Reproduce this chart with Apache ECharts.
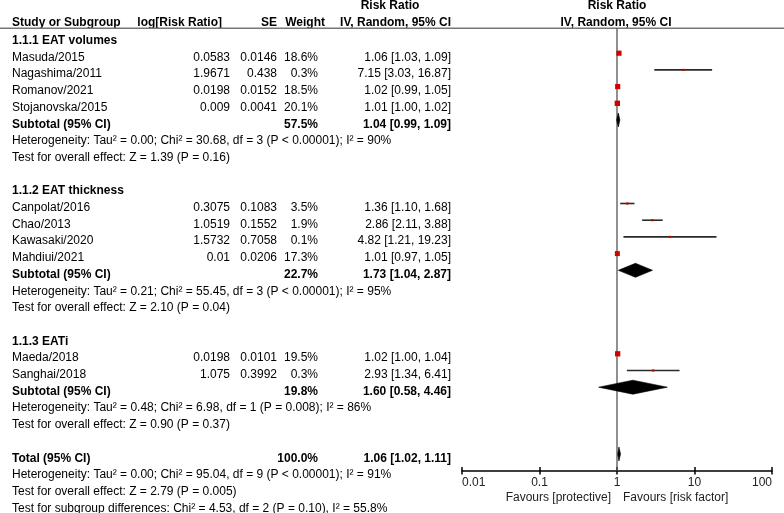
<!DOCTYPE html>
<html><head><meta charset="utf-8">
<script src="https://cdn.jsdelivr.net/npm/echarts@6/dist/echarts.min.js"></script>
<style>html,body{margin:0;padding:0;background:#fff}#c{width:784px;height:513px}</style>
</head><body><div id="c"></div>
<script>
// ---------- data ----------
const groupTitles = ["1.1.1 EAT volumes", "1.1.2 EAT thickness", "1.1.3 EATi"];
const groupRows = [0, 9, 18];

const studies = ["Masuda/2015", "Nagashima/2011", "Romanov/2021", "Stojanovska/2015",
  "Canpolat/2016", "Chao/2013", "Kawasaki/2020", "Mahdiui/2021",
  "Maeda/2018", "Sanghai/2018"];
const studyRows = [1, 2, 3, 4, 10, 11, 12, 13, 19, 20];
const logRR = ["0.0583", "1.9671", "0.0198", "0.009", "0.3075", "1.0519", "1.5732", "0.01", "0.0198", "1.075"];
const seVals = ["0.0146", "0.438", "0.0152", "0.0041", "0.1083", "0.1552", "0.7058", "0.0206", "0.0101", "0.3992"];
const weights = [18.6, 0.3, 18.5, 20.1, 3.5, 1.9, 0.1, 17.3, 19.5, 0.3];
const rr = [1.06, 7.15, 1.02, 1.01, 1.36, 2.86, 4.82, 1.01, 1.02, 2.93];
const rrLow = [1.03, 3.03, 0.99, 1.00, 1.10, 2.11, 1.21, 0.97, 1.00, 1.34];
const rrHigh = [1.09, 16.87, 1.05, 1.02, 1.68, 3.88, 19.23, 1.05, 1.04, 6.41];

const sumLabels = ["Subtotal (95% CI)", "Subtotal (95% CI)", "Subtotal (95% CI)", "Total (95% CI)"];
const sumRows = [5, 14, 21, 25];
const sumWeights = ["57.5%", "22.7%", "19.8%", "100.0%"];
const sumRR = [1.04, 1.73, 1.60, 1.06];
const sumLow = [0.99, 1.04, 0.58, 1.02];
const sumHigh = [1.09, 2.87, 4.46, 1.11];

const noteTexts = [
  "Heterogeneity: Tau\u00b2 = 0.00; Chi\u00b2 = 30.68, df = 3 (P < 0.00001); I\u00b2 = 90%",
  "Test for overall effect: Z = 1.39 (P = 0.16)",
  "Heterogeneity: Tau\u00b2 = 0.21; Chi\u00b2 = 55.45, df = 3 (P < 0.00001); I\u00b2 = 95%",
  "Test for overall effect: Z = 2.10 (P = 0.04)",
  "Heterogeneity: Tau\u00b2 = 0.48; Chi\u00b2 = 6.98, df = 1 (P = 0.008); I\u00b2 = 86%",
  "Test for overall effect: Z = 0.90 (P = 0.37)",
  "Heterogeneity: Tau\u00b2 = 0.00; Chi\u00b2 = 95.04, df = 9 (P < 0.00001); I\u00b2 = 91%",
  "Test for overall effect: Z = 2.79 (P = 0.005)",
  "Test for subgroup differences: Chi\u00b2 = 4.53, df = 2 (P = 0.10), I\u00b2 = 55.8%"
];
const noteRows = [6, 7, 15, 16, 22, 23, 26, 27, 28];

const tickValues = [0.01, 0.1, 1, 10, 100];
const tickLabels = ["0.01", "0.1", "1", "10", "100"];
const favourLeft = "Favours [protective]";
const favourRight = "Favours [risk factor]";

// ---------- layout ----------
const FONT = "'Liberation Sans', Arial, sans-serif";
const FS = 12;
const ROW0 = 40.7, PITCH = 16.7;       // text rows
const rowY = i => ROW0 + PITCH * i;
const Y_MIN = -0.5, Y_MAX = 26.02;
const GRID = { left: 462, width: 310, top: 28.15, height: 442.88 };

const g = [];
function txt(s, x, y, align, bold, color) {
  g.push({
    type: 'text', x: x, y: y, silent: true,
    style: {
      text: s, fill: color || '#000', align: align, verticalAlign: 'middle',
      textAlign: align, textVerticalAlign: 'middle',
      fontSize: FS, fontFamily: FONT, fontWeight: bold ? 'bold' : 'normal'
    }
  });
}
const fmt = v => v.toFixed(2);
const ciText = (e, l, h) => fmt(e) + " [" + fmt(l) + ", " + fmt(h) + "]";

// headers
txt("Risk Ratio", 390, 6, 'center', true);
txt("Risk Ratio", 617, 6, 'center', true);
txt("Study or Subgroup", 12, 22.7, 'left', true);
txt("log[Risk Ratio]", 222, 22.7, 'right', true);
txt("SE", 277, 22.7, 'right', true);
txt("Weight", 325, 22.7, 'right', true);
txt("IV, Random, 95% CI", 451, 22.7, 'right', true);
txt("IV, Random, 95% CI", 616, 22.7, 'center', true);
g.push({ type: 'line', silent: true, shape: { x1: 0, y1: 28.3, x2: 784, y2: 28.3 },
  style: { stroke: '#777', lineWidth: 1.5 } });

groupTitles.forEach((t, k) => txt(t, 12, rowY(groupRows[k]), 'left', true));
studies.forEach((s, k) => {
  const y = rowY(studyRows[k]);
  txt(s, 12, y, 'left', false);
  txt(logRR[k], 230, y, 'right', false);
  txt(seVals[k], 277, y, 'right', false);
  txt(weights[k].toFixed(1) + "%", 318, y, 'right', false);
  txt(ciText(rr[k], rrLow[k], rrHigh[k]), 451, y, 'right', false);
});
sumLabels.forEach((s, k) => {
  const y = rowY(sumRows[k]);
  txt(s, 12, y, 'left', true);
  txt(sumWeights[k], 318, y, 'right', true);
  txt(ciText(sumRR[k], sumLow[k], sumHigh[k]), 451, y, 'right', true);
});
noteTexts.forEach((s, k) => txt(s, 12, rowY(noteRows[k]), 'left', false));
txt(favourLeft, 611, 498, 'right', false, '#222');
txt(favourRight, 623, 498, 'left', false, '#222');

// ---------- chart ----------
const studyData = studies.map((s, k) => [rr[k], studyRows[k], rrLow[k], rrHigh[k], weights[k]]);
const sumData = sumRR.map((v, k) => [v, sumRows[k], sumLow[k], sumHigh[k]]);

const labelFor = v => {
  const e = Math.round(Math.log10(v));
  const idx = tickValues.findIndex(t => Math.round(Math.log10(t)) === e);
  return idx >= 0 ? tickLabels[idx] : '';
};

const xBase = {
  type: 'log', logBase: 10, min: tickValues[0], max: tickValues[tickValues.length - 1],
  splitLine: { show: false }, minorTick: { show: false }, minorSplitLine: { show: false }
};

const chart = echarts.init(document.getElementById('c'), null, { renderer: 'canvas' });
chart.setOption({
  animation: false,
  backgroundColor: '#fff',
  grid: [Object.assign({}, GRID), Object.assign({}, GRID)],
  xAxis: [
    Object.assign({}, xBase, {
      gridIndex: 0,
      axisLine: { onZero: false, lineStyle: { color: '#000', width: 1.5 } },
      axisTick: { length: 3.5, lineStyle: { color: '#000', width: 1.5 } },
      axisLabel: { margin: 6, color: '#222', fontSize: FS, fontFamily: FONT, formatter: labelFor,
        showMinLabel: true, showMaxLabel: true, alignMinLabel: 'left', alignMaxLabel: 'right' }
    }),
    Object.assign({}, xBase, {
      gridIndex: 1,
      axisLine: { show: false, onZero: false },
      axisTick: { inside: true, length: 4, lineStyle: { color: '#000', width: 1.5 } },
      axisLabel: { show: false }
    })
  ],
  yAxis: [
    { type: 'value', gridIndex: 0, min: Y_MIN, max: Y_MAX, inverse: true, show: false },
    { type: 'value', gridIndex: 1, min: Y_MIN, max: Y_MAX, inverse: true, show: false }
  ],
  graphic: g,
  series: [
    {
      type: 'line', xAxisIndex: 0, yAxisIndex: 0, silent: true, symbol: 'none',
      data: [[1, Y_MIN], [1, Y_MAX]],
      lineStyle: { color: '#555', width: 1.3 }, z: 1
    },
    {
      type: 'custom', xAxisIndex: 0, yAxisIndex: 0, silent: true, z: 3,
      encode: { x: [0, 2, 3], y: 1 },
      data: studyData,
      renderItem: (params, api) => {
        const p = api.coord([api.value(0), api.value(1)]);
        const l = api.coord([api.value(2), api.value(1)]);
        const h = api.coord([api.value(3), api.value(1)]);
        const s = Math.max(2.2, 1.2 * Math.sqrt(api.value(4)));
        return {
          type: 'group', children: [
            { type: 'line', shape: { x1: l[0], y1: l[1], x2: h[0], y2: h[1] },
              style: { stroke: '#2a2a2a', lineWidth: 1.6 } },
            { type: 'rect', shape: { x: p[0] - s / 2, y: p[1] - s / 2, width: s, height: s },
              style: { fill: '#d40000' } }
          ]
        };
      }
    },
    {
      type: 'custom', xAxisIndex: 0, yAxisIndex: 0, silent: true, z: 3,
      encode: { x: [0, 2, 3], y: 1 },
      data: sumData,
      renderItem: (params, api) => {
        const c = api.coord([api.value(0), api.value(1)]);
        const l = api.coord([api.value(2), api.value(1)]);
        const h = api.coord([api.value(3), api.value(1)]);
        const hh = 7;
        return {
          type: 'polygon',
          shape: { points: [[l[0], c[1]], [c[0], c[1] - hh], [h[0], c[1]], [c[0], c[1] + hh]] },
          style: { fill: '#000', stroke: '#000', lineWidth: 0.6 }
        };
      }
    }
  ]
});
</script>
</body></html>
